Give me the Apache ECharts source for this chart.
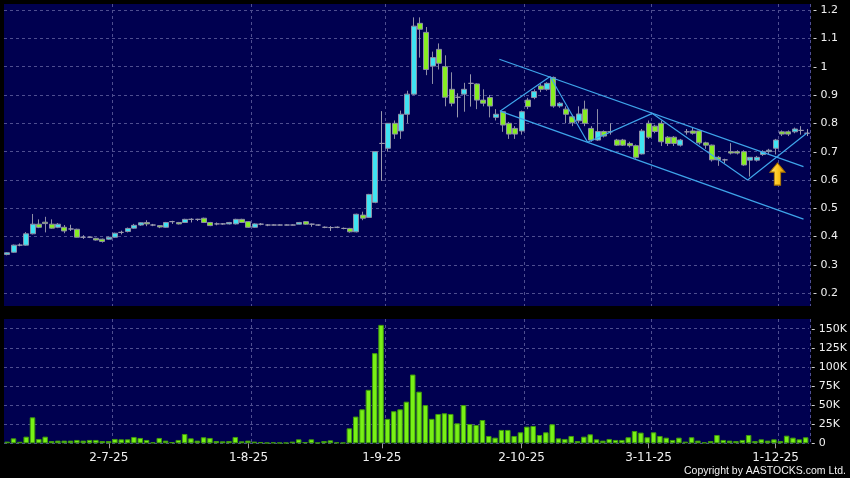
<!DOCTYPE html>
<html><head><meta charset="utf-8">
<script src="https://cdn.jsdelivr.net/npm/echarts@6/dist/echarts.min.js"></script>
<style>html,body{margin:0;padding:0;background:#000;}#c{width:850px;height:478px;}</style>
</head><body><div id="c"></div>
<script>
const dates = [
'9-6-25','10-6-25','11-6-25','12-6-25','13-6-25','16-6-25','17-6-25','18-6-25','19-6-25','20-6-25','23-6-25','24-6-25','25-6-25','26-6-25','27-6-25','30-6-25',
'2-7-25','3-7-25','4-7-25','7-7-25','8-7-25','9-7-25','10-7-25','11-7-25','14-7-25','15-7-25','16-7-25','17-7-25','18-7-25','21-7-25','22-7-25','23-7-25','24-7-25','25-7-25','28-7-25','29-7-25','30-7-25','31-7-25',
'1-8-25','4-8-25','5-8-25','6-8-25','7-8-25','8-8-25','11-8-25','12-8-25','13-8-25','14-8-25','15-8-25','18-8-25','19-8-25','20-8-25','21-8-25','22-8-25','25-8-25','26-8-25','27-8-25','28-8-25','29-8-25',
'1-9-25','2-9-25','3-9-25','4-9-25','5-9-25','8-9-25','9-9-25','10-9-25','11-9-25','12-9-25','15-9-25','16-9-25','17-9-25','18-9-25','19-9-25','22-9-25','23-9-25','24-9-25','25-9-25','26-9-25','29-9-25','30-9-25',
'2-10-25','3-10-25','6-10-25','8-10-25','9-10-25','10-10-25','13-10-25','14-10-25','15-10-25','16-10-25','17-10-25','20-10-25','21-10-25','22-10-25','23-10-25','24-10-25','27-10-25','28-10-25','30-10-25','31-10-25',
'3-11-25','4-11-25','5-11-25','6-11-25','7-11-25','10-11-25','11-11-25','12-11-25','13-11-25','14-11-25','17-11-25','18-11-25','19-11-25','20-11-25','21-11-25','24-11-25','25-11-25','26-11-25','27-11-25','28-11-25',
'1-12-25','2-12-25','3-12-25','4-12-25','5-12-25','8-12-25'];

const open = [
.337,.345,.370,.370,.410,.444,.451,.444,.433,.433,.427,.426,.398,.398,.394,.391,
.391,.398,.415,.418,.430,.441,.450,.441,.439,.433,.453,.450,.450,.461,.461,.465,.450,.445,.445,.445,.445,.461,
.453,.433,.444,.441,.441,.441,.441,.441,.444,.453,.444,.441,.433,.432,.433,.429,.429,.417,.476,.468,.521,
.729,.712,.800,.773,.832,.903,1.153,1.121,1.002,1.061,1.000,.920,.892,.903,.941,.939,.882,.891,.821,.841,.800,.782,
.773,.882,.891,.932,.920,.962,.861,.850,.823,.809,.850,.782,.741,.771,.770,.741,.741,.729,.721,.692,
.800,.790,.800,.751,.751,.723,.770,.773,.773,.731,.723,.680,.671,.700,.700,.700,.670,.670,.690,.700,
.712,.770,.770,.770,.775,.765];
const close = [
.343,.370,.370,.410,.444,.433,.446,.430,.444,.420,.427,.398,.398,.398,.388,.383,
.398,.412,.415,.429,.440,.449,.445,.441,.434,.450,.453,.445,.461,.461,.461,.450,.439,.445,.445,.450,.461,.450,
.433,.445,.444,.441,.441,.441,.441,.441,.450,.444,.444,.441,.433,.432,.433,.429,.417,.479,.465,.549,.700,
.729,.800,.762,.832,.903,1.143,1.132,.990,1.032,1.012,.892,.871,.892,.920,.941,.882,.871,.861,.832,.794,.762,.762,
.841,.859,.912,.920,.941,.861,.871,.832,.802,.833,.800,.741,.771,.755,.770,.723,.723,.721,.680,.773,
.751,.771,.735,.729,.729,.741,.770,.765,.731,.723,.671,.671,.671,.695,.695,.653,.680,.680,.700,.705,
.741,.762,.762,.780,.775,.765];
const low = [
.334,.343,.366,.368,.408,.430,.415,.428,.430,.412,.420,.397,.392,.395,.386,.379,
.389,.396,.408,.415,.428,.438,.437,.437,.430,.431,.445,.443,.448,.450,.455,.448,.437,.440,.442,.443,.443,.448,
.431,.431,.440,.437,.440,.440,.440,.440,.443,.442,.435,.438,.430,.420,.430,.426,.414,.415,.458,.466,.518,
.597,.700,.745,.745,.800,.900,1.032,.970,.939,.990,.860,.860,.821,.841,.859,.850,.860,.821,.810,.770,.745,.745,
.760,.850,.885,.910,.915,.855,.855,.800,.790,.800,.790,.735,.738,.750,.760,.720,.720,.715,.675,.690,
.745,.765,.720,.720,.720,.718,.760,.760,.725,.710,.665,.650,.660,.690,.690,.650,.612,.665,.685,.690,
.690,.755,.755,.765,.760,.755];
const high = [
.345,.372,.376,.416,.480,.461,.470,.461,.448,.441,.442,.428,.405,.400,.396,.393,
.400,.414,.421,.432,.445,.451,.458,.445,.441,.452,.456,.452,.463,.465,.463,.467,.452,.450,.448,.452,.463,.463,
.455,.447,.448,.444,.443,.443,.443,.443,.452,.455,.446,.443,.436,.437,.436,.432,.431,.481,.488,.551,.702,
.843,.800,.810,.845,.915,1.174,1.174,1.140,1.053,1.082,1.040,.980,.906,.943,.973,.941,.920,.900,.850,.843,.805,.790,
.845,.890,.920,.940,.945,.965,.875,.860,.830,.860,.880,.790,.850,.775,.800,.745,.745,.735,.725,.780,
.810,.795,.810,.755,.755,.745,.780,.785,.775,.735,.725,.685,.675,.730,.705,.705,.675,.685,.705,.710,
.745,.775,.775,.785,.790,.780];

const volume = [
2200,6500,2000,8700,34000,5700,8700,3000,3500,3500,3500,4400,3500,4400,4400,3000,
3000,5700,5200,5200,8300,7000,4400,1300,7000,3500,1700,4400,12200,6500,3500,7900,7000,3000,2600,3000,8300,2600,
3500,2200,1700,900,1300,900,900,2200,5200,1700,5200,900,3000,3900,1300,900,19600,35000,44500,70000,118000,
155000,32000,42000,44500,54500,90000,67600,50000,32000,38400,39300,38400,26200,50000,25300,24000,30500,9600,7400,17500,17500,9600,
14400,21800,22700,10900,14400,24900,6500,5700,9600,3000,8700,11800,5200,3500,5700,4400,4400,7900,16100,14000,
7900,14400,9600,7400,4400,7400,2200,7900,3500,1300,3000,10900,4400,3500,3000,4400,10900,3000,5200,3500,
5200,3000,10000,7400,5200,7900];

const xTickLabels = ['2-7-25','1-8-25','1-9-25','2-10-25','3-11-25','1-12-25'];
const priceTicks = {min: 0.2, max: 1.2, step: 0.1};
const volTicks = {min: 0, max: 150000, step: 25000};

// drawn trend lines (x = trading-day index, y = price)
const channelUpper = [[77.5, 1.026], [125.4, 0.647]];
const channelLower = [[77.6, 0.843], [125.4, 0.462]];
const zigzag = [[77.6, 0.843], [85.5, 0.965], [91.4, 0.733], [101.6, 0.835], [116.6, 0.600], [125.9, 0.765]];
const arrowMark = [[121.3, 0.621]];

const N = dates.length;
const labelIdx = new Set(xTickLabels.map(l => dates.indexOf(l)));
const candles = dates.map((d, i) => [open[i], close[i], low[i], high[i]]);

const L = 4, W = 806.5;
const gridLine = {show: true, lineStyle: {color: '#4e4e90', type: [3, 3], width: 1}};
const FONT = 'DejaVu Sans';

const chart = echarts.init(document.getElementById('c'), null, {renderer: 'canvas'});
chart.setOption({
  backgroundColor: '#000000',
  animation: false,
  grid: [
    {left: L, top: 4, width: W, height: 302, show: true, backgroundColor: '#000050', borderWidth: 0},
    {left: L, top: 10, width: W, height: 283.3, show: false},
    {left: L, top: 319, width: W, height: 124.3, show: true, backgroundColor: '#000050', borderWidth: 0},
    {left: L, top: 328.7, width: W, height: 114.6, show: false}
  ],
  xAxis: [
    {type: 'category', gridIndex: 0, data: dates, boundaryGap: true, axisLine: {show: false}, axisTick: {show: false}, axisLabel: {show: false},
     splitLine: Object.assign({}, gridLine, {interval: (i) => labelIdx.has(i - 1)})},
    {type: 'category', gridIndex: 1, data: dates, boundaryGap: true, show: false},
    {type: 'category', gridIndex: 2, data: dates, boundaryGap: true, position: 'bottom',
     axisLine: {show: false},
     axisTick: {show: true, alignWithLabel: true, length: 5, interval: (i) => labelIdx.has(i), lineStyle: {color: '#9a9a9a'}},
     axisLabel: {show: true, interval: (i) => labelIdx.has(i), color: '#f0f0f0', fontSize: 12, fontFamily: FONT, margin: 9},
     splitLine: Object.assign({}, gridLine, {interval: (i) => labelIdx.has(i - 1)})},
    {type: 'category', gridIndex: 3, data: dates, boundaryGap: true, show: false},
    {type: 'value', gridIndex: 1, min: -0.5, max: N - 0.5, show: false}
  ],
  yAxis: [
    {type: 'value', gridIndex: 0, min: 0, max: 1, show: false, splitLine: {show: false}},
    {type: 'value', gridIndex: 1, position: 'right', min: priceTicks.min, max: priceTicks.max, interval: priceTicks.step,
     axisLine: {show: false}, axisTick: {show: false}, splitLine: gridLine,
     axisLabel: {color: '#f0f0f0', fontSize: 11, fontFamily: FONT, margin: 2.5, formatter: v => '- ' + (+v.toFixed(2))}},
    {type: 'value', gridIndex: 2, min: 0, max: 1, show: false, splitLine: {show: false}},
    {type: 'value', gridIndex: 3, position: 'right', min: volTicks.min, max: volTicks.max, interval: volTicks.step,
     axisLine: {show: false}, axisTick: {show: false}, splitLine: gridLine,
     axisLabel: {color: '#f0f0f0', fontSize: 11, fontFamily: FONT, margin: 2.5, formatter: v => '- ' + (v === 0 ? '0' : (v / 1000) + 'K')}}
  ],
  series: [
    {type: 'candlestick', xAxisIndex: 1, yAxisIndex: 1, data: candles, barWidth: 5.5, clip: false,
     itemStyle: {color: '#3fe3f2', color0: '#86ee22', borderColor: '#8e8ea6', borderColor0: '#8e8ea6', borderColorDoji: '#9a9aae', borderWidth: 1}},
    {type: 'line', xAxisIndex: 4, yAxisIndex: 1, data: channelUpper, symbol: 'none', lineStyle: {color: '#3ea4ea', width: 1.2}, z: 3},
    {type: 'line', xAxisIndex: 4, yAxisIndex: 1, data: channelLower, symbol: 'none', lineStyle: {color: '#3ea4ea', width: 1.2}, z: 3},
    {type: 'line', xAxisIndex: 4, yAxisIndex: 1, data: zigzag, symbol: 'none', lineStyle: {color: '#3ea4ea', width: 1.2}, z: 3},
    {type: 'scatter', xAxisIndex: 4, yAxisIndex: 1, data: arrowMark, z: 5,
     symbol: 'path://M7,0 L14,9 L10,9 L10,22 L4,22 L4,9 L0,9 Z', symbolSize: [15, 22],
     itemStyle: {color: new echarts.graphic.LinearGradient(0, 0, 1, 0, [{offset: 0, color: '#ffe680'}, {offset: 0.5, color: '#ffc820'}, {offset: 1, color: '#e09a00'}]), borderColor: '#b07800', borderWidth: 1, opacity: 1}},
    {type: 'bar', xAxisIndex: 3, yAxisIndex: 3, data: volume, barWidth: 5.5, clip: false,
     itemStyle: {color: '#78f016', borderColor: '#3f9a0c', borderWidth: 1}}
  ],
  graphic: [
    {type: 'text', right: 4, top: 466, style: {text: 'Copyright by AASTOCKS.com Ltd.', fill: '#f0f0f0', font: '10.5px "Liberation Sans"'}}
  ]
});
</script></body></html>
